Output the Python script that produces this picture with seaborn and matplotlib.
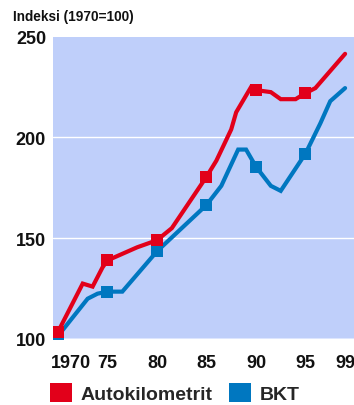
import matplotlib
matplotlib.use("Agg")
import matplotlib.pyplot as plt
from matplotlib.patches import Patch
from matplotlib.transforms import ScaledTranslation
import numpy as np
import pandas as pd
import seaborn as sns

# Index series, 1970 = 100
auto_years = [1970, 1972.5, 1973.5, 1974.5, 1975, 1978, 1980, 1981.5, 1985, 1986,
              1987.5, 1988, 1989.5, 1990, 1991.5, 1992.5, 1994, 1995, 1996, 1999]
auto_values = [103.5, 127.5, 126, 135.5, 139, 145.5, 149, 155, 180.5, 188.5,
               204, 212.5, 225, 223.5, 222.5, 219, 219, 222, 224.5, 241.5]

bkt_years = [1970, 1973, 1974, 1975, 1976.5, 1980, 1985, 1986.5, 1988.2, 1989,
             1990, 1991.5, 1992.5, 1995, 1996.5, 1997.5, 1999]
bkt_values = [101.5, 120, 122.5, 123.5, 123.5, 143.5, 166.5, 176, 194, 194,
              185.5, 176, 173.5, 192, 207, 218, 224.5]

marker_years = [1970, 1975, 1980, 1985, 1990, 1995]
tick_years = [1970, 1975, 1980, 1985, 1990, 1995, 1999]
tick_labels = ["1970", "75", "80", "85", "90", "95", "99"]
y_ticks = [100, 150, 200, 250]
series_names = ["Autokilometrit", "BKT"]

RED = "#E2001A"
BLUE = "#0077C0"
BG = "#BFCFFA"

sns.set_theme(style="white")
plt.rcParams["font.family"] = ["Liberation Sans", "DejaVu Sans"]

auto = pd.DataFrame({"year": auto_years, "value": auto_values})
bkt = pd.DataFrame({"year": bkt_years, "value": bkt_values})

fig = plt.figure(figsize=(3.54, 4.06), dpi=100)
ax = fig.add_axes([53 / 354, 66 / 406, 1 - 53 / 354, (340 - 37.7) / 406])
ax.set_facecolor(BG)

for v in (150, 200):
    ax.axhline(v, color="white", lw=1.0, zorder=1)
ax.axhline(100, color="#E4EBFF", lw=1.2, zorder=1)

sns.lineplot(data=bkt, x="year", y="value", color=BLUE, lw=3.0, ax=ax,
             zorder=3, solid_joinstyle="miter", estimator=None, sort=False)
sns.lineplot(data=auto, x="year", y="value", color=RED, lw=3.0, ax=ax,
             zorder=4, solid_joinstyle="miter", estimator=None, sort=False)

sns.scatterplot(data=bkt[bkt["year"].isin(marker_years)], x="year", y="value",
                color=BLUE, marker="s", s=85, linewidth=0, ax=ax, zorder=5)
sns.scatterplot(data=auto[auto["year"].isin(marker_years)], x="year", y="value",
                color=RED, marker="s", s=85, linewidth=0, ax=ax, zorder=6)

ax.set_xlim(1969.5, 1999.9)
ax.set_ylim(100, 250)
ax.set_xticks(tick_years)
ax.set_xticklabels(tick_labels)
ax.set_yticks(y_ticks)
ax.set_yticklabels([str(v) for v in y_ticks])
ax.set_xlabel("")
ax.set_ylabel("")
for s in ax.spines.values():
    s.set_visible(False)
ax.tick_params(axis="both", length=0, labelsize=13, colors="#111111")
ax.tick_params(axis="x", pad=11)
ax.tick_params(axis="y", pad=5)
for lab in ax.get_xticklabels() + ax.get_yticklabels():
    lab.set_fontweight("bold")
first = ax.get_xticklabels()[0]
first.set_transform(first.get_transform() + ScaledTranslation(13 / 100, 0, fig.dpi_scale_trans))

fig.text(13 / 354, 1 - 17 / 406, "Indeksi (1970=100)", fontsize=9.8,
         fontweight="bold", color="#111111", va="center", ha="left")

handles = [Patch(facecolor=RED, edgecolor="none"), Patch(facecolor=BLUE, edgecolor="none")]
fig.legend(handles, series_names, loc="center left",
           bbox_to_anchor=(50 / 354, 1 - 394 / 406), ncol=2, frameon=False,
           handlelength=1.12, handleheight=1.12, handletextpad=0.45,
           columnspacing=0.85, borderpad=0, borderaxespad=0,
           prop={"weight": "bold", "size": 14})

fig.savefig("out.png", dpi=100)
